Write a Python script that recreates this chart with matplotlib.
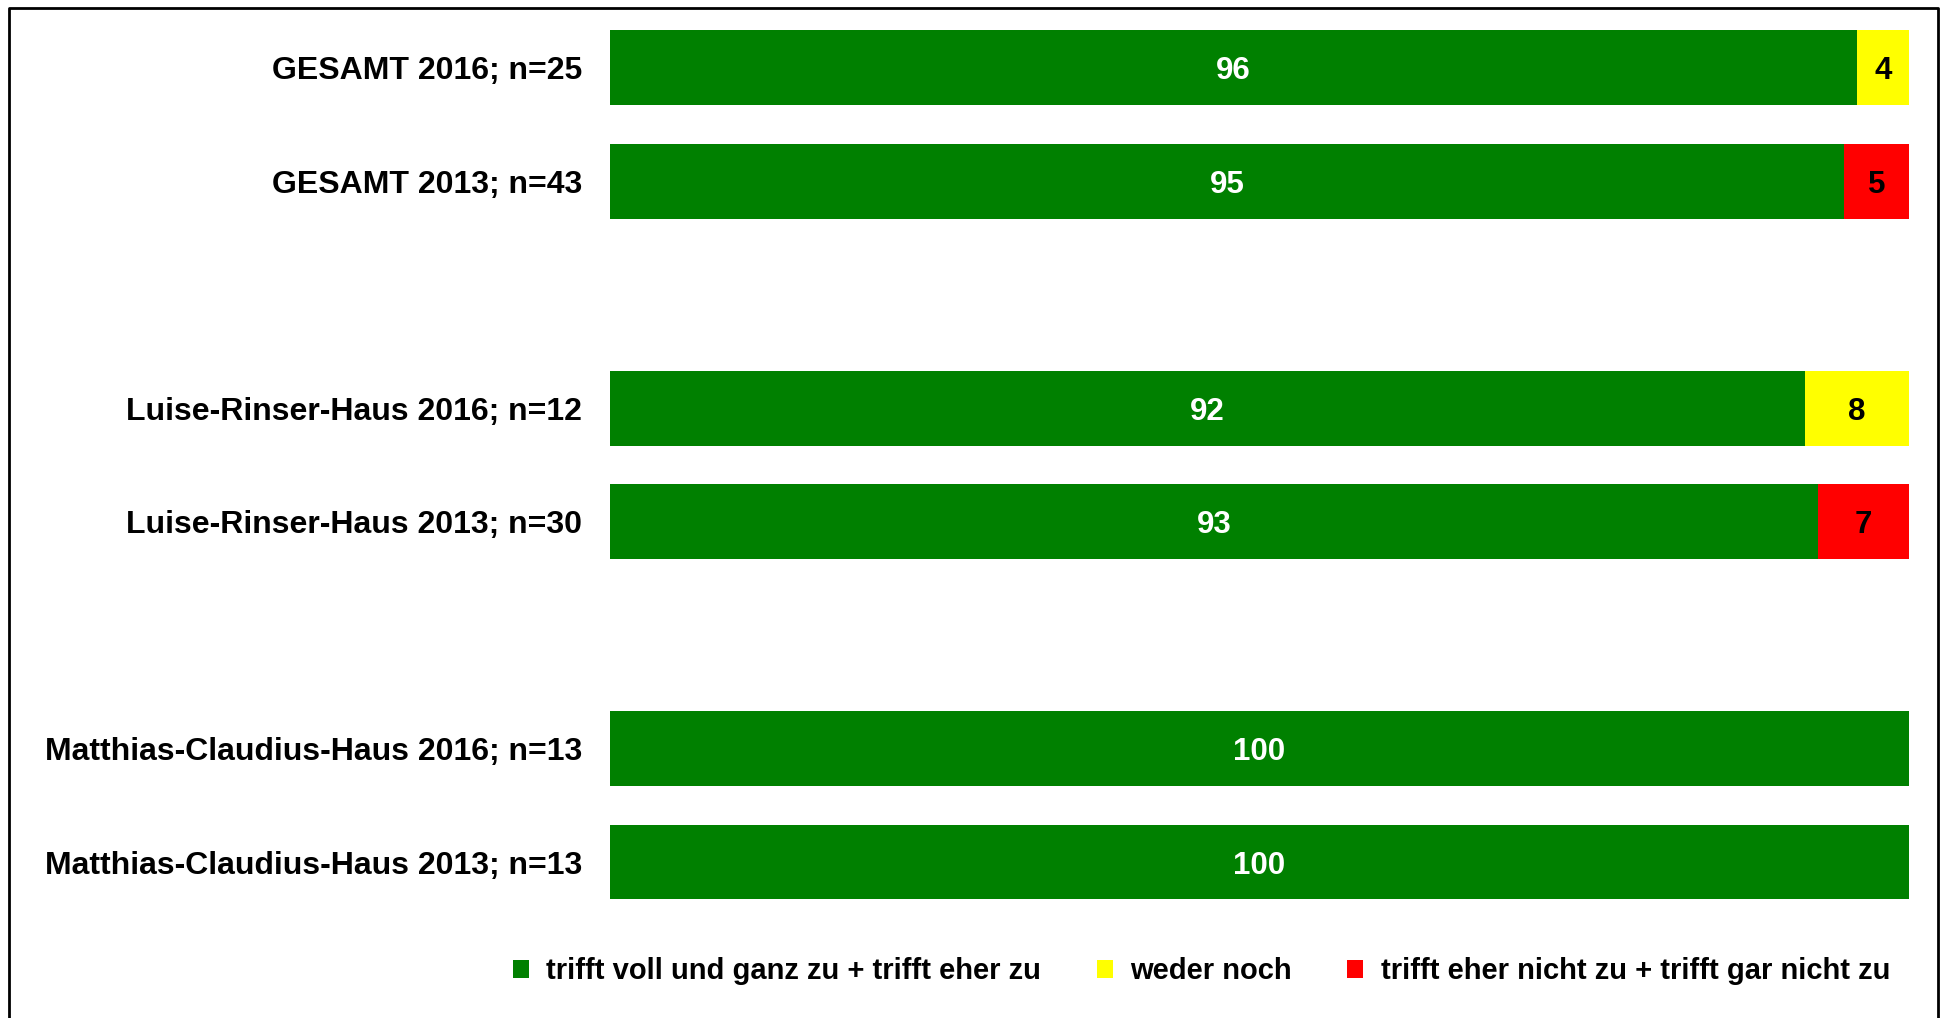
import numpy as np
import matplotlib.pyplot as plt
from matplotlib.patches import Patch
from matplotlib.lines import Line2D

plt.rcParams['font.family'] = ['Liberation Sans', 'DejaVu Sans']

labels = ['GESAMT 2016; n=25', 'GESAMT 2013; n=43',
          'Luise-Rinser-Haus 2016; n=12', 'Luise-Rinser-Haus 2013; n=30',
          'Matthias-Claudius-Haus 2016; n=13', 'Matthias-Claudius-Haus 2013; n=13']
positions = [0, 1, 3, 4, 6, 7]
zustimmung = [96, 95, 92, 93, 100, 100]
weder_noch = [4, 0, 8, 0, 0, 0]
ablehnung = [0, 5, 0, 7, 0, 0]

series = ['trifft voll und ganz zu + trifft eher zu', 'weder noch',
          'trifft eher nicht zu + trifft gar nicht zu']
colors = ['#008000', '#FFFF00', '#FF0000']
text_colors = ['white', 'black', 'black']

fig = plt.figure(figsize=(19.41, 10.18), dpi=100)
ax = fig.add_axes([610 / 1941, 0.0975, (1909 - 610) / 1941, 0.989 - 0.0975])

left = np.zeros(len(positions))
for vals, col, tcol in zip([zustimmung, weder_noch, ablehnung], colors, text_colors):
    vals = np.array(vals, dtype=float)
    ax.barh(positions, vals, left=left, height=0.66, color=col, edgecolor='none')
    for y, l, v in zip(positions, left, vals):
        if v > 0:
            ax.text(l + v / 2, y, f'{v:.0f}', ha='center', va='center_baseline',
                    color=tcol, fontsize=22.5, fontweight='bold')
    left += vals

ax.set_xlim(0, 100)
ax.set_ylim(7.5, -0.5)
ax.set_yticks(positions)
ax.set_yticklabels(labels, fontsize=23, fontweight='bold')
ax.tick_params(axis='y', length=0, pad=20)
ax.set_xticks([])
for s in ax.spines.values():
    s.set_visible(False)

handles = [Patch(facecolor=c, edgecolor='none') for c in colors]
fig.legend(handles, series, loc='center', bbox_to_anchor=(0.619, 0.046), ncol=3,
           frameon=False, prop={'size': 21, 'weight': 'bold'},
           handlelength=0.55, handleheight=0.55, handletextpad=0.6, columnspacing=1.9)

# outer frame (bottom edge is cut off)
W, H = 1941, 1018
x0, x1, y0 = 9 / W, 1938 / W, 1 - 8 / H
fig.add_artist(Line2D([x0, x0, x1, x1], [0, y0, y0, 0], color='black', lw=2,
                      transform=fig.transFigure))

fig.savefig('out.png', dpi=100)
